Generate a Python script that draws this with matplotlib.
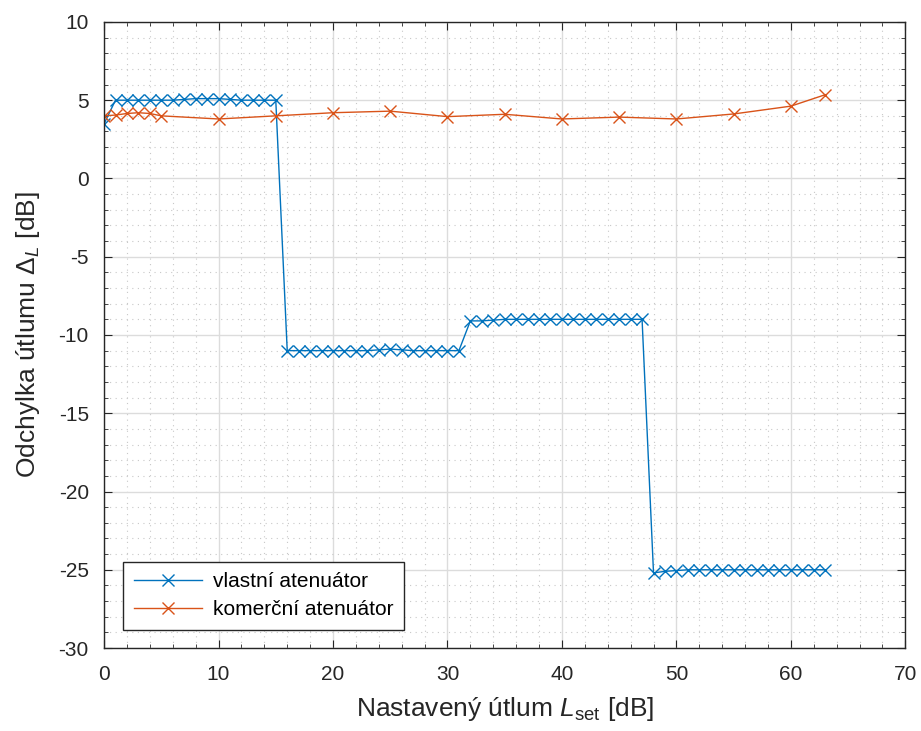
import matplotlib
matplotlib.use("Agg")
import matplotlib.pyplot as plt
from matplotlib.ticker import MultipleLocator

# vlastni atenuator, krok 1 dB
x_vl = list(range(0, 64))
y_vl = [3.5] + [5.0, 5.0, 5.0, 5.0, 5.0, 5.0, 5.05, 5.1, 5.1, 5.1, 5.05, 5.0, 5.0, 5.0, 5.0] \
    + [-11.0, -11.0, -11.0, -11.0, -11.0, -11.0, -11.0, -11.0, -10.95, -10.9, -10.95, -11.0, -11.0, -11.0, -11.0, -11.0] \
    + [-9.1, -9.1, -9.05, -9.0, -9.0, -9.0, -9.0, -9.0, -9.0, -9.0, -9.0, -9.0, -9.0, -9.0, -9.0, -9.0] \
    + [-25.2, -25.1, -25.05, -25.0, -25.0, -25.0, -25.0, -25.0, -25.0, -25.0, -25.0, -25.0, -25.0, -25.0, -25.0, -25.0]

# komercni atenuator
x_ko = [0, 1, 2, 3, 4, 5, 10, 15, 20, 25, 30, 35, 40, 45, 50, 55, 60, 63]
y_ko = [4.0, 4.05, 4.15, 4.2, 4.15, 4.0, 3.8, 4.0, 4.2, 4.3, 3.95, 4.1, 3.8, 3.92, 3.8, 4.12, 4.62, 5.35]

plt.rcParams['font.family'] = ['Liberation Sans', 'DejaVu Sans']
plt.rcParams['axes.unicode_minus'] = False
plt.rcParams['mathtext.fontset'] = 'custom'
plt.rcParams['mathtext.rm'] = 'Liberation Sans'
plt.rcParams['mathtext.it'] = 'Liberation Sans:italic'

fig = plt.figure(figsize=(9.21, 7.31), dpi=100)
ax = fig.add_axes([0.113, 0.1135, 0.870, 0.8565])

ax.plot(x_vl, y_vl, color='#0072BD', lw=1.0, marker='x', ms=8.5, mew=1.0, label='vlastní atenuátor')
ax.plot(x_ko, y_ko, color='#D95319', lw=1.0, marker='x', ms=8.5, mew=1.0, label='komerční atenuátor')

ax.set_xlim(0, 70)
ax.set_ylim(-30, 10)
ax.xaxis.set_major_locator(MultipleLocator(10))
ax.xaxis.set_minor_locator(MultipleLocator(2))
ax.yaxis.set_major_locator(MultipleLocator(5))
ax.yaxis.set_minor_locator(MultipleLocator(1))

ax.grid(which='major', color='#dcdcdc', lw=1.0)
ax.grid(which='minor', color='#c8c8c8', lw=0.8, ls=(0, (1, 4)))
ax.set_axisbelow(True)
ax.tick_params(which='both', direction='in', top=True, right=True, colors='#262626', labelsize=15)
ax.tick_params(which='major', length=6)
ax.tick_params(which='minor', length=3)
ax.tick_params(axis='x', which='both', pad=12)
ax.tick_params(axis='y', which='both', pad=11)
for s in ax.spines.values():
    s.set_color('#262626')
    s.set_linewidth(1.0)

ax.set_xlabel('Nastavený útlum $\\mathit{L}_{\\mathrm{set}}$ [dB]', fontsize=19, color='#262626', labelpad=8)
ax.set_ylabel('Odchylka útlumu Δ$_{\\mathit{L}}$ [dB]', fontsize=19, color='#262626', labelpad=12)

leg = ax.legend(loc='lower left', bbox_to_anchor=(0.024, 0.029), borderaxespad=0, fontsize=15,
                fancybox=False, edgecolor='#262626', framealpha=1, handlelength=3.3,
                handletextpad=0.5, borderpad=0.5, labelspacing=0.45)
leg.get_frame().set_linewidth(1.0)

fig.savefig('out.png', dpi=100)
